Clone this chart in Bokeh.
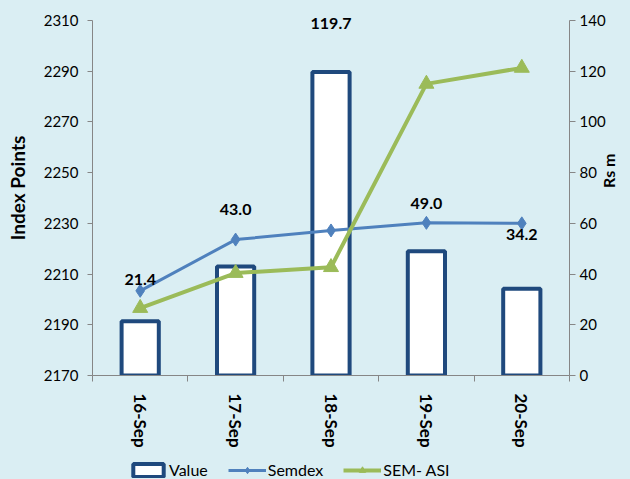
import math
from bokeh.plotting import figure
from bokeh.layouts import column
from bokeh.models import Range1d, LinearAxis, FixedTicker, Legend, LegendItem, Label
from bokeh.embed import file_html
from bokeh.resources import INLINE

# ---- data ----
categories = ["16-Sep", "17-Sep", "18-Sep", "19-Sep", "20-Sep"]
turnover = [21.4, 43.0, 119.7, 49.0, 34.2]            # Rs m (right axis)
semdex = [2203.4, 2223.6, 2227.2, 2230.2, 2230.0]       # index points
sem_asi = [2196.6, 2210.4, 2212.7, 2285.0, 2291.3]      # index points
left_ticks = [2170, 2190, 2210, 2230, 2250, 2270, 2290, 2310]
right_ticks = [0, 20, 40, 60, 80, 100, 120, 140]
label_y = [37.9, 65.5, 139.0, 68.0, 55.6]                # data label positions (Rs m)
series_names = ["Value", "Semdex", "SEM- ASI"]

BG = "#DAEEF3"
AXIS = "#868686"
FONT = "Lato"
BAR_LINE = "#1F497D"
SEM_C = "#4F81BD"
ASI_C = "#9BBB59"
centers = [i + 0.5 for i in range(len(categories))]
bounds = list(range(len(categories) + 1))

# frame spans from the canvas top; axes are bounded to the tick range
TOP_PAD_PX = 20
FRAME_BOTTOM = 375
left_span = left_ticks[-1] - left_ticks[0]
right_span = right_ticks[-1] - right_ticks[0]
left_end = left_ticks[-1] + TOP_PAD_PX * left_span / (FRAME_BOTTOM - TOP_PAD_PX)
right_end = right_ticks[-1] + TOP_PAD_PX * right_span / (FRAME_BOTTOM - TOP_PAD_PX)

P_H = 451
p = figure(width=630, height=P_H, x_range=Range1d(0, len(categories)),
           y_range=Range1d(left_ticks[0], left_end),
           output_backend="svg", toolbar_location=None,
           min_border_left=92, min_border_right=56, min_border_top=0,
           min_border_bottom=P_H - FRAME_BOTTOM,
           background_fill_color=BG, border_fill_color=BG, outline_line_color=None)
p.extra_y_ranges = {"right": Range1d(right_ticks[0], right_end)}
p.xgrid.visible = False
p.ygrid.visible = False

# x axis
xa = p.xaxis[0]
xa.ticker = FixedTicker(ticks=centers, minor_ticks=bounds)
xa.major_label_overrides = {c: lab for c, lab in zip(centers, categories)}
xa.major_tick_out = 0
xa.major_tick_in = 0
xa.minor_tick_out = 6
xa.minor_tick_in = 0
xa.minor_tick_line_color = AXIS
xa.axis_line_color = AXIS
xa.major_label_orientation = "vertical"
xa.major_label_standoff = 12
xa.major_label_text_font = FONT
xa.major_label_text_font_style = "bold"
xa.major_label_text_font_size = "17px"
xa.major_label_text_color = "#000000"

# left axis
ya = p.yaxis[0]
ya.ticker = FixedTicker(ticks=left_ticks)
ya.bounds = (left_ticks[0], left_ticks[-1])
ya.axis_label = "Index Points"
ya.axis_label_text_font = FONT
ya.axis_label_text_font_style = "bold"
ya.axis_label_text_font_size = "19px"
ya.axis_label_text_color = "#000000"
ya.axis_label_standoff = 12
ya.major_tick_out = 5
ya.major_tick_in = 0
ya.minor_tick_line_color = None
ya.axis_line_color = AXIS
ya.major_tick_line_color = AXIS
ya.major_label_standoff = 9
ya.major_label_text_font = FONT
ya.major_label_text_font_size = "15px"
ya.major_label_text_color = "#000000"

# right axis
ra = LinearAxis(y_range_name="right", ticker=FixedTicker(ticks=right_ticks),
                bounds=(right_ticks[0], right_ticks[-1]))
ra.axis_label = "Rs m"
ra.axis_label_text_font = FONT
ra.axis_label_text_font_style = "bold"
ra.axis_label_text_font_size = "16px"
ra.axis_label_text_color = "#000000"
ra.axis_label_standoff = 0
try:
    ra.axis_label_orientation = math.pi / 2
except Exception:
    pass
ra.major_tick_out = 6
ra.major_tick_in = 0
ra.minor_tick_line_color = None
ra.axis_line_color = AXIS
ra.major_tick_line_color = AXIS
ra.major_label_standoff = 4
ra.major_label_text_font = FONT
ra.major_label_text_font_size = "15px"
ra.major_label_text_color = "#000000"
p.add_layout(ra, "right")

# bars
p.vbar(x=centers, top=turnover, bottom=0, width=0.39, y_range_name="right",
       fill_color="white", line_color=BAR_LINE, line_width=4)

# lines
p.line(centers, semdex, line_color=SEM_C, line_width=3)
p.scatter(centers, semdex, marker="diamond", size=13, fill_color=SEM_C, line_color=SEM_C)
p.line(centers, sem_asi, line_color=ASI_C, line_width=4)
p.scatter(centers, sem_asi, marker="triangle", size=15, fill_color=ASI_C, line_color=ASI_C)

# data labels
for c, ly, v in zip(centers, label_y, turnover):
    p.add_layout(Label(x=c, y=ly, y_range_name="right", text=f"{v:.1f}",
                       text_align="center", text_baseline="middle", text_font=FONT,
                       text_font_style="bold", text_font_size="16px", text_color="#000000"))

# legend strip: a small figure holding hidden copies of the series as legend swatches
L_H = 479 - P_H
lf = figure(width=630, height=L_H, x_range=Range1d(-20, -10), y_range=Range1d(-20, -10),
            x_axis_type=None, y_axis_type=None, output_backend="svg", toolbar_location=None,
            min_border=0, min_border_left=0, min_border_right=0, min_border_top=0,
            min_border_bottom=0, background_fill_color=BG, border_fill_color=BG,
            outline_line_color=None)
lf.xgrid.visible = False
lf.ygrid.visible = False
r_val = lf.vbar(x=centers, top=turnover, width=0.39, fill_color="white",
                line_color=BAR_LINE, line_width=4)
r_sem_l = lf.line(centers, semdex, line_color=SEM_C, line_width=3)
r_sem_m = lf.scatter(centers, semdex, marker="diamond", size=13, fill_color=SEM_C, line_color=SEM_C)
r_asi_l = lf.line(centers, sem_asi, line_color=ASI_C, line_width=4)
r_asi_m = lf.scatter(centers, sem_asi, marker="triangle", size=15, fill_color=ASI_C, line_color=ASI_C)
for r in (r_val, r_sem_l, r_sem_m, r_asi_l, r_asi_m):
    r.visible = False

legend = Legend(items=[LegendItem(label=series_names[0], renderers=[r_val]),
                       LegendItem(label=series_names[1], renderers=[r_sem_l, r_sem_m]),
                       LegendItem(label=series_names[2], renderers=[r_asi_l, r_asi_m])],
                orientation="horizontal", location=(37, 0), click_policy="none",
                background_fill_alpha=0, border_line_color=None,
                glyph_width=38, glyph_height=16, label_standoff=2, spacing=20,
                padding=2, margin=0, label_text_font=FONT, label_text_font_size="16px",
                label_text_color="#000000")
lf.add_layout(legend)

layout = column(p, lf, spacing=0)
html = file_html(layout, INLINE)
html = html.replace("</head>", "<style>html, body { background: #DAEEF3; }</style></head>", 1)
open("out.html", "w").write(html)
